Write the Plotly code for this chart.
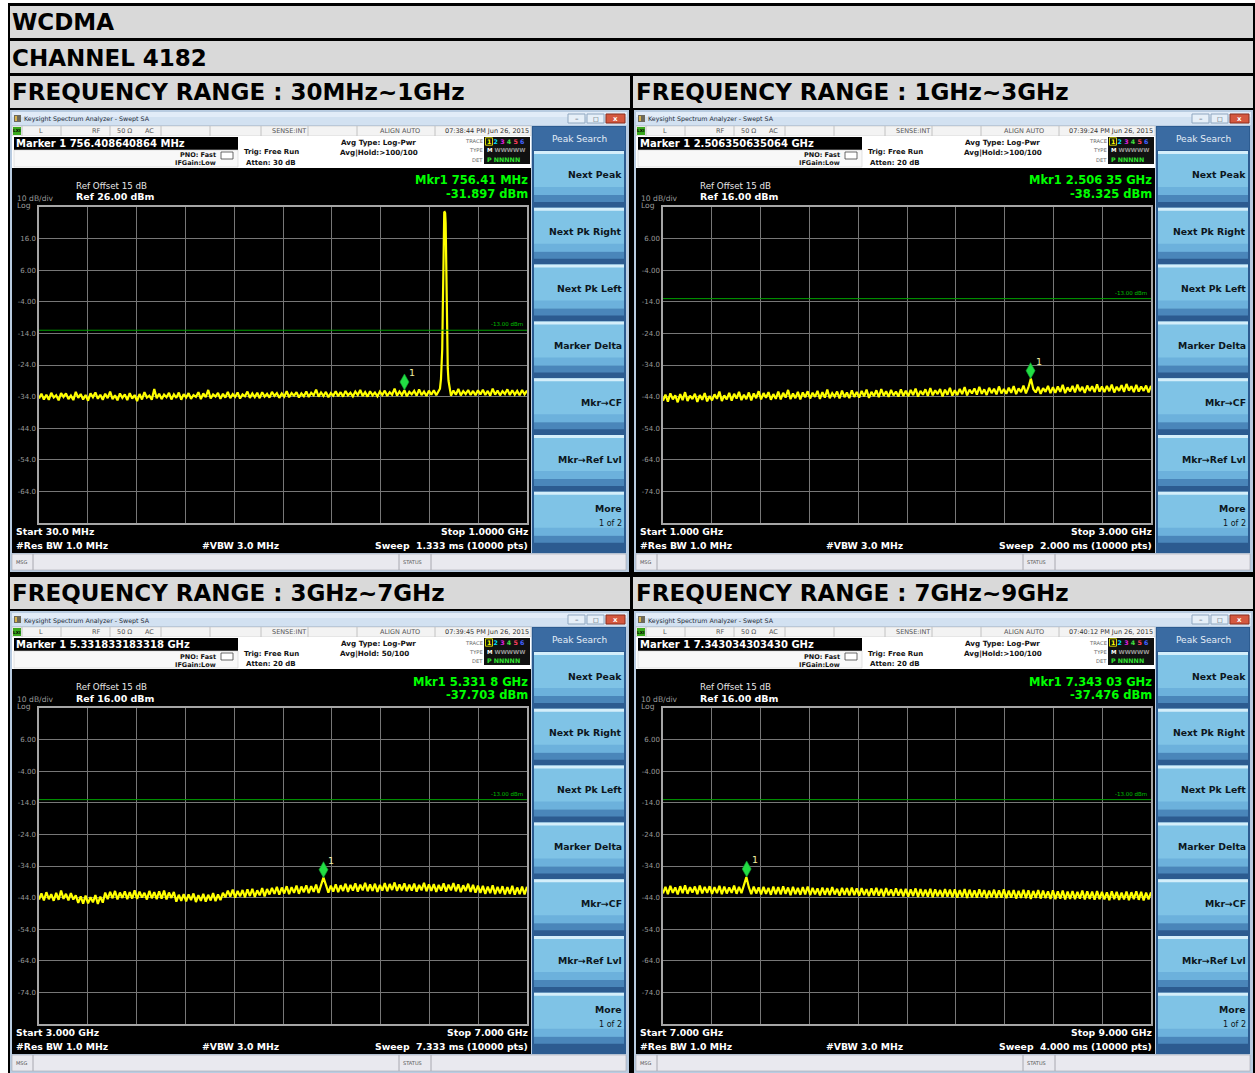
import numpy as np
import plotly.graph_objects as go

FONT = "DejaVu Sans"
W, H = 1255, 1073

# ---------------- measurement data ----------------
RANGE_TITLES = ["FREQUENCY RANGE : 30MHz~1GHz", "FREQUENCY RANGE : 1GHz~3GHz",
                "FREQUENCY RANGE : 3GHz~7GHz", "FREQUENCY RANGE : 7GHz~9GHz"]
START_FREQ = [30.0, 1.0, 3.0, 7.0]        # MHz for the first sweep, GHz for the others
STOP_FREQ = [1000.0, 3.0, 7.0, 9.0]
REF_LEVEL = [26.0, 16.0, 16.0, 16.0]      # dBm
LIMIT_LEVEL = -13.0                        # dBm
MARKER_FREQ = [756.408640864, 2.506350635064, 5.331833183318, 7.343034303430]
MARKER_LEVEL = [-31.897, -38.325, -37.703, -37.476]

YTICK_TEXT_26 = ["16.0", "6.00", "-4.00", "-14.0", "-24.0", "-34.0", "-44.0", "-54.0", "-64.0"]
YTICK_TEXT_16 = ["6.00", "-4.00", "-14.0", "-24.0", "-34.0", "-44.0", "-54.0", "-64.0", "-74.0"]

# Sweep 1: 30 MHz - 1 GHz noise floor (dBm)
TRACE_1 = [
    -34.6, -33.1, -34.9, -33.4, -35.0, -32.8, -34.3, -33.6, -35.2, -32.9, -34.1, -33.0, -34.8, -33.7, -35.1, -32.5, -34.4, -33.2, -34.9, -33.5,
    -35.3, -33.0, -34.2, -32.7, -34.7, -33.4, -35.0, -33.1, -34.5, -32.4, -34.8, -33.6, -35.2, -33.0, -34.4, -33.3, -35.1, -32.9, -34.6, -33.5,
    -35.4, -33.2, -34.9, -32.6, -34.3, -33.7, -35.0, -31.6, -34.5, -33.1, -34.8, -33.4, -34.2, -32.8, -34.9, -33.3, -34.4, -32.7, -35.0, -33.2,
    -34.3, -32.9, -34.7, -33.5, -34.1, -32.6, -34.8, -33.0, -34.2, -31.9, -34.6, -33.3, -34.0, -32.8, -34.7, -33.1, -34.3, -32.5, -34.5, -33.2,
    -34.1, -32.7, -34.6, -33.3, -33.9, -32.4, -34.4, -33.0, -34.2, -32.8, -34.5, -32.6, -34.0, -33.1, -34.3, -32.5, -33.8, -32.9, -34.4, -33.0,
    -34.0, -32.3, -34.2, -32.9, -33.7, -32.6, -34.3, -33.0, -33.9, -32.4, -34.1, -32.8, -33.6, -31.8, -34.0, -32.7, -33.8, -32.5, -34.2, -32.9,
    -33.7, -32.3, -33.9, -32.6, -34.0, -32.2, -33.6, -32.8, -33.9, -32.4, -33.5, -31.9, -33.8, -32.6, -34.0, -32.3, -33.6, -32.7, -33.9, -32.4,
    -33.5, -32.1, -33.8, -32.6, -33.4, -31.5, -33.7, -32.4, -33.5, -32.0, -33.9, -32.5, -33.3, -32.2, -33.7, -31.7, -33.5, -32.4, -33.8, -32.1,
    -33.4, -32.0, -33.6, -32.3, -33.2, -32.0, -33.5, -32.2, -33.7, -32.1, -33.4, -31.6, -33.6, -32.3, -33.2, -31.9, -33.5, -32.2, -33.6, -32.0,
    -33.3, -31.8, -33.5, -32.2, -33.7, -31.5, -33.4, -32.1, -33.6, -32.3, -33.2, -31.7, -33.5, -32.0, -33.4, -32.2, -33.6, -31.9, -33.3, -32.1,
]
# Uplink carrier seen in sweep 1 (MHz, dBm)
PEAK1_FREQ = [827.0, 829.0, 830.5, 831.5, 832.5, 833.5, 834.5, 835.5, 836.4, 837.3, 838.3, 839.3, 840.3, 841.3, 842.5, 844.0, 846.0]
PEAK1_LEVEL = [-31.5, -28.5, -24.0, -19.0, -8.0, 12.0, 22.5, 24.3, 24.4, 24.1, 21.0, 9.0, -9.0, -19.5, -25.0, -29.0, -31.5]

# Sweep 2: 1 - 3 GHz
TRACE_2 = [
    -45.3, -43.4, -45.6, -43.0, -44.9, -43.6, -45.8, -43.2, -45.1, -42.6, -45.4, -43.7, -44.8, -43.1, -45.7, -43.5, -45.0, -42.9, -45.5, -43.8,
    -45.2, -43.3, -44.7, -42.4, -45.4, -43.6, -44.9, -42.8, -45.3, -43.1, -44.6, -42.5, -45.1, -43.4, -44.8, -42.7, -45.2, -43.0, -44.5, -42.3,
    -44.9, -42.9, -44.4, -42.6, -45.0, -43.2, -44.7, -42.4, -44.9, -42.8, -44.3, -41.9, -44.8, -43.0, -44.5, -42.5, -44.9, -42.7, -44.2, -42.3,
    -44.6, -42.8, -44.1, -42.2, -44.7, -42.6, -44.3, -41.8, -44.5, -42.9, -44.0, -42.4, -44.6, -42.1, -44.2, -42.7, -44.5, -42.0, -44.1, -42.5,
    -44.3, -42.2, -43.9, -41.8, -44.4, -42.5, -43.8, -42.0, -44.2, -41.6, -43.7, -42.3, -44.1, -41.9, -43.6, -42.4, -44.0, -41.7, -43.8, -42.1,
    -43.9, -41.9, -43.5, -41.5, -44.0, -42.2, -43.4, -41.7, -43.8, -41.3, -43.6, -42.0, -43.2, -41.6, -43.9, -41.8, -43.4, -41.2, -43.7, -42.0,
    -43.5, -41.6, -43.2, -41.0, -43.6, -41.8, -43.0, -41.4, -43.4, -40.9, -43.1, -41.7, -43.5, -41.2, -42.9, -41.5, -43.3, -40.8, -43.0, -41.6,
    -43.1, -41.2, -42.8, -40.7, -43.2, -41.4, -42.6, -40.5, -43.0, -41.1, -38.3, -41.6, -42.7, -40.9, -43.1, -41.3, -42.5, -40.6, -42.9, -41.0,
    -42.8, -40.8, -42.5, -40.3, -42.9, -41.1, -42.4, -40.6, -42.7, -40.2, -42.3, -40.9, -42.8, -40.5, -42.2, -40.7, -42.6, -40.1, -42.4, -40.8,
    -42.6, -40.6, -42.3, -40.2, -42.7, -40.9, -42.2, -40.4, -42.5, -40.0, -42.1, -40.7, -42.6, -40.3, -42.4, -40.8, -42.2, -40.5, -42.7, -40.6,
]

# Sweep 3: 3 - 7 GHz
TRACE_3 = [
    -44.6, -42.7, -44.9, -42.3, -44.5, -42.9, -45.0, -42.5, -44.7, -41.8, -44.4, -42.8, -44.9, -42.6, -44.6, -43.3, -45.7, -43.6, -45.9, -43.4,
    -45.8, -43.9, -45.5, -43.2, -46.0, -43.7, -45.6, -42.4, -44.5, -42.2, -44.2, -41.9, -44.6, -42.4, -44.1, -42.0, -44.5, -42.3, -44.3, -41.7,
    -44.4, -42.1, -44.0, -42.5, -44.6, -41.9, -44.2, -42.3, -44.5, -42.0, -44.3, -41.8, -44.6, -42.4, -44.1, -42.2, -45.3, -43.1, -45.0, -42.9,
    -45.2, -43.0, -44.8, -42.7, -45.4, -43.2, -45.0, -42.8, -45.3, -43.1, -44.9, -42.6, -45.1, -43.0, -44.8, -42.5, -43.9, -41.8, -43.7, -41.5,
    -44.0, -41.9, -43.6, -41.6, -43.9, -41.4, -43.5, -41.2, -43.8, -41.7, -43.3, -41.0, -43.6, -41.3, -43.0, -40.9, -42.8, -40.6, -43.1, -40.8,
    -42.7, -40.4, -42.9, -40.7, -42.5, -40.2, -42.8, -40.5, -42.3, -40.1, -42.6, -40.4, -42.2, -39.9, -42.5, -40.3, -37.7, -40.0, -42.4, -40.2,
    -42.1, -39.8, -42.3, -40.1, -41.9, -39.6, -42.2, -40.0, -41.8, -39.5, -42.1, -39.9, -41.7, -39.3, -42.0, -39.8, -41.9, -39.6, -42.2, -40.0,
    -41.8, -39.4, -42.0, -39.7, -41.6, -39.2, -41.9, -39.8, -41.7, -39.5, -42.0, -39.9, -41.8, -39.6, -42.1, -40.0, -41.7, -39.3, -42.0, -39.8,
    -41.9, -39.7, -42.2, -40.0, -41.8, -39.5, -42.1, -39.9, -41.7, -39.4, -42.0, -39.8, -42.3, -40.1, -41.9, -39.6, -42.2, -40.0, -42.4, -40.2,
    -42.5, -40.3, -42.8, -40.5, -42.6, -40.1, -42.9, -40.6, -42.7, -40.4, -43.0, -40.7, -42.8, -40.3, -43.1, -40.8, -42.9, -40.5, -43.0, -40.6,
]

# Sweep 4: 7 - 9 GHz
TRACE_4 = [
    -42.7, -40.6, -42.9, -40.3, -42.5, -40.8, -43.0, -40.4, -42.6, -40.1, -42.8, -40.7, -42.4, -40.5, -42.9, -40.2, -42.7, -40.6, -42.5, -40.4,
    -42.8, -40.7, -42.6, -40.3, -42.9, -40.5, -42.7, -40.8, -42.5, -40.2, -42.8, -40.6, -42.6, -40.4, -37.5, -40.7, -42.9, -40.5, -42.7, -40.8,
    -43.0, -40.6, -42.8, -40.9, -43.1, -40.5, -42.9, -40.7, -43.0, -40.4, -42.8, -40.8, -43.2, -40.6, -42.9, -40.9, -43.1, -40.7, -43.0, -40.5,
    -43.2, -40.9, -43.0, -41.1, -43.3, -40.8, -43.1, -41.0, -43.2, -40.7, -43.0, -41.2, -43.4, -40.9, -43.1, -41.0, -43.3, -40.8, -43.2, -41.1,
    -43.4, -41.0, -43.2, -41.3, -43.5, -41.1, -43.3, -40.9, -43.4, -41.2, -43.6, -41.0, -43.3, -41.4, -43.5, -41.1, -43.4, -41.3, -43.6, -41.2,
    -43.7, -41.4, -43.5, -41.1, -43.8, -41.3, -43.6, -41.5, -43.7, -41.2, -43.9, -41.4, -43.6, -41.6, -43.8, -41.3, -43.7, -41.5, -43.9, -41.4,
    -44.0, -41.6, -43.8, -41.3, -44.1, -41.5, -43.9, -41.7, -44.0, -41.4, -43.8, -41.6, -44.2, -41.8, -43.9, -41.5, -44.1, -41.7, -44.0, -41.4,
    -44.2, -41.8, -44.0, -41.6, -44.3, -41.9, -44.1, -41.5, -44.2, -41.7, -44.4, -41.9, -44.1, -41.6, -44.3, -41.8, -44.2, -42.0, -44.4, -41.7,
    -44.5, -42.0, -44.3, -41.8, -44.6, -42.1, -44.4, -41.9, -44.5, -42.2, -44.3, -41.8, -44.6, -42.0, -44.4, -42.1, -44.7, -41.9, -44.5, -42.2,
    -44.6, -42.3, -44.8, -42.0, -44.5, -42.2, -44.7, -42.4, -44.6, -42.1, -44.8, -42.3, -44.5, -42.0, -44.7, -42.2, -44.9, -42.4, -44.6, -42.3,
]

# Instrument annotations per sweep
MARKER_READOUT = ["Marker 1 756.408640864 MHz", "Marker 1 2.506350635064 GHz",
                  "Marker 1 5.331833183318 GHz", "Marker 1 7.343034303430 GHz"]
MKR_FREQ_TEXT = ["Mkr1 756.41 MHz", "Mkr1 2.506 35 GHz", "Mkr1 5.331 8 GHz", "Mkr1 7.343 03 GHz"]
TIMESTAMPS = ["07:38:44 PM Jun 26, 2015", "07:39:24 PM Jun 26, 2015",
              "07:39:45 PM Jun 26, 2015", "07:40:12 PM Jun 26, 2015"]
ATTEN_TEXT = ["Atten: 30 dB", "Atten: 20 dB", "Atten: 20 dB", "Atten: 20 dB"]
AVG_HOLD_TEXT = ["Avg|Hold:>100/100", "Avg|Hold:>100/100", "Avg|Hold: 50/100", "Avg|Hold:>100/100"]
START_TEXT = ["Start 30.0 MHz", "Start 1.000 GHz", "Start 3.000 GHz", "Start 7.000 GHz"]
STOP_TEXT = ["Stop 1.0000 GHz", "Stop 3.000 GHz", "Stop 7.000 GHz", "Stop 9.000 GHz"]
SWEEP_TEXT = ["Sweep  1.333 ms (10000 pts)", "Sweep  2.000 ms (10000 pts)",
              "Sweep  7.333 ms (10000 pts)", "Sweep  4.000 ms (10000 pts)"]
SOFTKEYS = ["Next Peak", "Next Pk Right", "Next Pk Left", "Marker Delta",
            "Mkr\u2192CF", "Mkr\u2192Ref Lvl", "More"]

# pixel offsets of the four analyzer windows
PANEL_OFFSET = [(0, 0), (624, 0), (0, 501), (624, 501)]
TITLE_POS = [(12, 92), (636, 92), (12, 593), (636, 593)]

shapes, annotations = [], []


def px(x):
    return x / W


def py(y):
    return 1 - y / H


def rect(x0, y0, x1, y1, fill, line=None, lw=0):
    shapes.append(dict(type="rect", xref="paper", yref="paper", layer="below",
                       x0=px(x0), x1=px(x1), y0=py(y1), y1=py(y0),
                       fillcolor=fill, line=dict(color=line or fill, width=lw)))


def vline(x, y0, y1, color, lw=1):
    shapes.append(dict(type="line", xref="paper", yref="paper", layer="below",
                       x0=px(x), x1=px(x), y0=py(y1), y1=py(y0),
                       line=dict(color=color, width=lw)))


def text(x, y, s, size, color, bold=False, anchor="left", family=FONT):
    annotations.append(dict(xref="paper", yref="paper", x=px(x), y=py(y),
                            text=f"<b>{s}</b>" if bold else s, showarrow=False,
                            xanchor=anchor, yanchor="middle", borderpad=0, borderwidth=0,
                            font=dict(size=size, color=color, family=family)))


# ---------------- table frame and headings ----------------
rect(8, 3, 1255, 1073, "#000000")
rect(10, 6, 1253, 38, "#d9d9d9")
rect(10, 41, 1253, 73, "#d9d9d9")
rect(10, 76, 630, 108, "#d9d9d9")
rect(633, 76, 1253, 108, "#d9d9d9")
rect(10, 577, 630, 609, "#d9d9d9")
rect(633, 577, 1253, 609, "#d9d9d9")
text(12, 22.5, "WCDMA", 23, "#000", bold=True)
text(12, 57.5, "CHANNEL 4182", 23, "#000", bold=True)
for (tx, ty), title in zip(TITLE_POS, RANGE_TITLES):
    text(tx, ty, title, 23, "#000", bold=True)


def draw_window(i):
    ox, oy = PANEL_OFFSET[i]

    def R(x0, y0, x1, y1, fill, line=None, lw=0):
        rect(ox + x0, oy + y0, ox + x1, oy + y1, fill, line, lw)

    def T(x, y, s, size, color, bold=False, anchor="left"):
        text(ox + x, oy + y, s, size, color, bold, anchor)

    def V(x, y0, y1, color, lw=1):
        vline(ox + x, oy + y0, oy + y1, color, lw)

    # window chrome
    R(10, 110, 629, 572, "#b9cce1")
    R(12, 112, 627, 125, "#d2e1f1")
    R(12, 112, 627, 117, "#e2ecf8")
    R(14, 115, 21, 122, "#6d6a5c")
    R(15, 116, 17, 121, "#d8b24a")
    T(24, 119.5, "Keysight Spectrum Analyzer - Swept SA", 6.3, "#1e2a36")
    R(568, 114, 585, 123, "#e6eff8", "#8fa7c0", 1)
    R(587, 114, 604, 123, "#e6eff8", "#8fa7c0", 1)
    R(606, 114, 625, 123, "#d4583f", "#8c2f1f", 1)
    T(576.5, 118.5, "\u2013", 7, "#2a3a4a", anchor="center")
    T(595.5, 118.5, "\u25a1", 6, "#2a3a4a", anchor="center")
    T(615.5, 118.5, "x", 7, "#ffffff", bold=True, anchor="center")

    # status row
    R(12, 126, 531, 136, "#f3f3f3", "#bdbdbd", 0.5)
    for sx in [22, 61, 110, 161, 210, 261, 308, 357, 435]:
        V(sx, 126, 136, "#c2c2c2")
    R(13, 127, 21, 135, "#3aa81c")
    T(17, 131, "LXI", 4.2, "#000", bold=True, anchor="center")
    T(39, 131, "L", 6.5, "#555")
    T(92, 131, "RF", 6.5, "#555")
    T(117, 131, "50 \u03a9", 6.5, "#555")
    T(145, 131, "AC", 6.5, "#555")
    T(306, 131, "SENSE:INT", 6.5, "#555", anchor="right")
    T(400, 131, "ALIGN AUTO", 6.5, "#555", anchor="center")
    T(529, 131, TIMESTAMPS[i], 6.5, "#333", anchor="right")

    # marker / setup strip
    R(12, 136, 531, 168, "#ffffff")
    R(14, 137, 238, 150, "#000000")
    T(16, 143.5, MARKER_READOUT[i], 10, "#ffffff", bold=True)
    R(14, 150, 238, 167, "#f8f8f8", "#d2d2d2", 0.6)
    T(216, 155.5, "PNO: Fast", 6.5, "#111", bold=True, anchor="right")
    T(216, 163.5, "IFGain:Low", 6.5, "#111", bold=True, anchor="right")
    R(221, 152, 233, 159, "#ffffff", "#444444", 0.8)
    T(244, 152.5, "Trig: Free Run", 7, "#111", bold=True)
    T(246, 163, ATTEN_TEXT[i], 7, "#111", bold=True)
    T(341, 142.5, "Avg Type: Log-Pwr", 7.2, "#111", bold=True)
    T(340, 152.5, AVG_HOLD_TEXT[i], 7.2, "#111", bold=True)
    T(483, 141.5, "TRACE", 5.2, "#666", anchor="right")
    T(483, 150.5, "TYPE", 5.2, "#666", anchor="right")
    T(483, 159.5, "DET", 5.2, "#666", anchor="right")
    R(484, 137, 530, 164, "#111111")
    R(485.5, 137.8, 492.5, 145.2, "#111111", "#ffff00", 0.8)
    T(487, 141.5, "<span style='color:#ffff00'>1</span> <span style='color:#00e0ff'>2</span> "
      "<span style='color:#e020e0'>3</span> <span style='color:#40e040'>4</span> "
      "<span style='color:#ff4060'>5</span> <span style='color:#4060ff'>6</span>", 6.3, "#fff", bold=True)
    T(487, 150.5, "<span style='color:#ffffff'>M</span> <span style='color:#9a9a9a'>WWWWW</span>", 5.6, "#fff", bold=True)
    T(487, 159.5, "<span style='color:#30e030'>P NNNNN</span>", 6.3, "#fff", bold=True)

    # measurement display
    R(12, 168, 531, 553, "#000000")
    T(76, 186, "Ref Offset 15 dB", 8.7, "#e6e6e6")
    T(76, 197, f"Ref {REF_LEVEL[i]:.2f} dBm", 9.5, "#ffffff", bold=True)
    T(17, 198, "10 dB/div", 7.6, "#9a9a9a")
    T(17, 205.5, "Log", 7.6, "#9a9a9a")
    T(528, 180.5, MKR_FREQ_TEXT[i], 11.5, "#00ff00", bold=True, anchor="right")
    T(528, 193.5, f"{MARKER_LEVEL[i]:.3f} dBm", 11.5, "#00ff00", bold=True, anchor="right")
    T(16, 531, START_TEXT[i], 9.3, "#ffffff", bold=True)
    T(528, 531, STOP_TEXT[i], 9.3, "#ffffff", bold=True, anchor="right")
    T(16, 545, "#Res BW 1.0 MHz", 9.3, "#ffffff", bold=True)
    T(202, 545, "#VBW 3.0 MHz", 9.3, "#ffffff", bold=True)
    T(528, 545, SWEEP_TEXT[i], 9.3, "#ffffff", bold=True, anchor="right")

    # message bar
    R(12, 554, 626, 570, "#e9e9ef", "#a8a8b0", 0.6)
    V(33, 554, 570, "#a8a8b0")
    V(399, 554, 570, "#a8a8b0")
    V(431, 554, 570, "#a8a8b0")
    T(16, 562, "MSG", 5, "#555")
    T(403, 562, "STATUS", 5, "#555")

    # softkey menu
    R(532, 126, 626, 553, "#2c5b90")
    R(533, 127, 625, 150, "#3a6ba2")
    T(579, 138.5, "Peak Search", 9, "#e4edf7", anchor="center")
    for k, label in enumerate(SOFTKEYS):
        b = 151 + k * 56.8
        R(534, b, 624, b + 47, "#7fc3e6")
        R(534, b, 624, b + 3, "#d4eefa")
        R(534, b + 36, 624, b + 44, "#6cb1dc")
        R(534, b + 44, 624, b + 51, "#4a86ba")
        if label == "More":
            T(622, b + 16.5, label, 9.3, "#0c1620", bold=True, anchor="right")
            T(622, b + 31.5, "1 of 2", 8, "#0c1620", anchor="right")
        else:
            T(622, b + 24, label, 9.3, "#0c1620", bold=True, anchor="right")


for i in range(4):
    draw_window(i)

# ---------------- spectrum traces ----------------
fig = go.Figure()

traces = [TRACE_1, TRACE_2, TRACE_3, TRACE_4]
for i in range(4):
    freq = np.linspace(START_FREQ[i], STOP_FREQ[i], len(traces[i]))
    level = np.array(traces[i])
    if i == 0:
        keep = (freq < PEAK1_FREQ[0]) | (freq > PEAK1_FREQ[-1])
        freq = np.concatenate([freq[keep], PEAK1_FREQ])
        level = np.concatenate([level[keep], PEAK1_LEVEL])
        order = np.argsort(freq)
        freq, level = freq[order], level[order]
    suffix = "" if i == 0 else str(i + 1)
    fig.add_trace(go.Scatter(x=freq, y=level, mode="lines",
                             line=dict(color="#ffff00", width=2.2),
                             hoverinfo="skip", showlegend=False,
                             xaxis="x" + suffix, yaxis="y" + suffix))

# graticule positions (pixel boxes of the four displays)
layout_axes = {}
for i in range(4):
    ox, oy = PANEL_OFFSET[i]
    left, right, top, bottom = 39 + ox, 527 + ox, 207 + oy, 523 + oy
    suffix = "" if i == 0 else str(i + 1)
    start, stop, ref = START_FREQ[i], STOP_FREQ[i], REF_LEVEL[i]
    xdiv = [start + k * (stop - start) / 10 for k in range(11)]
    ydiv = [ref - 10 * k for k in range(1, 10)]
    labels = YTICK_TEXT_26 if ref == 26.0 else YTICK_TEXT_16
    layout_axes["xaxis" + suffix] = dict(
        domain=[px(left), px(right)], range=[start, stop], anchor="y" + suffix,
        tickvals=xdiv, showticklabels=False, ticks="", showgrid=True,
        gridcolor="#777777", gridwidth=1, zeroline=False, showline=True, mirror=True,
        linecolor="#a6a6a6", linewidth=1.5, fixedrange=True)
    layout_axes["yaxis" + suffix] = dict(
        domain=[py(bottom), py(top)], range=[ref - 100, ref], anchor="x" + suffix,
        tickvals=ydiv, ticktext=labels, ticks="", showgrid=True,
        gridcolor="#777777", gridwidth=1, zeroline=False, showline=True, mirror=True,
        linecolor="#a6a6a6", linewidth=1.5, fixedrange=True,
        tickfont=dict(size=7, color="#9a9a9a", family=FONT))

    xr = "x" if i == 0 else "x" + str(i + 1)
    yr = "y" if i == 0 else "y" + str(i + 1)
    # display line at the -13 dBm limit
    shapes.append(dict(type="line", xref=xr + " domain", yref=yr, x0=0, x1=1,
                       y0=LIMIT_LEVEL, y1=LIMIT_LEVEL, layer="above",
                       line=dict(color="#00a000", width=1)))
    annotations.append(dict(xref=xr + " domain", yref=yr, x=1, y=LIMIT_LEVEL,
                            xanchor="right", yanchor="bottom", xshift=-2, yshift=1,
                            text=f"{LIMIT_LEVEL:.2f} dBm", showarrow=False,
                            font=dict(size=5.5, color="#00c000", family=FONT)))
    # marker 1 diamond, tip resting on the marker level
    shapes.append(dict(type="path", xref=xr, yref=yr, layer="above",
                       xsizemode="pixel", ysizemode="pixel",
                       xanchor=MARKER_FREQ[i], yanchor=MARKER_LEVEL[i],
                       path="M 0 0 L 4.5 8 L 0 16 L -4.5 8 Z",
                       fillcolor="#22dd44", line=dict(color="#10a030", width=0.6)))
    annotations.append(dict(xref=xr, yref=yr, x=MARKER_FREQ[i], y=MARKER_LEVEL[i],
                            xshift=8, yshift=17, text="1", showarrow=False,
                            font=dict(size=9.5, color="#f0f0a0", family=FONT)))

fig.update_layout(
    width=W, height=H, autosize=False,
    margin=dict(l=0, r=0, t=0, b=0),
    paper_bgcolor="#ffffff", plot_bgcolor="#000000",
    showlegend=False, shapes=shapes, annotations=annotations,
    **layout_axes,
)

fig.write_html("out.html")
